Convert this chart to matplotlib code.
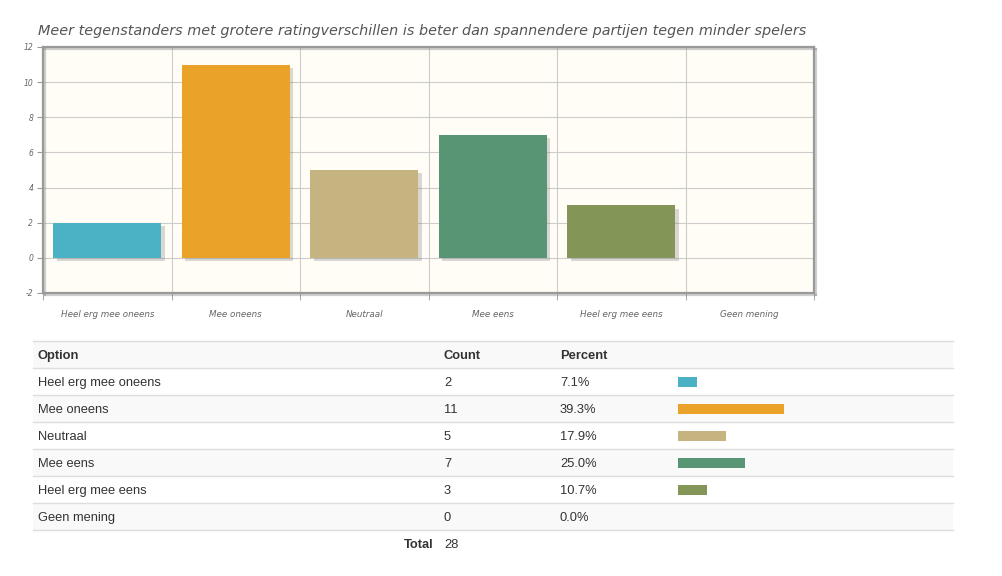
import matplotlib
matplotlib.use("Agg")
import matplotlib.pyplot as plt
import matplotlib.patheffects as pe
from matplotlib.patches import Rectangle
import numpy as np

title = "Meer tegenstanders met grotere ratingverschillen is beter dan spannendere partijen tegen minder spelers"
categories = ["Heel erg mee oneens", "Mee oneens", "Neutraal", "Mee eens", "Heel erg mee eens", "Geen mening"]
counts = [2, 11, 5, 7, 3, 0]
colors = ["#4bb2c5", "#eaa228", "#c5b47f", "#579575", "#839557", "#958c12"]
yticks = [-2, 0, 2, 4, 6, 8, 10, 12]

W, H = 1003, 576
fig = plt.figure(figsize=(W / 100, H / 100), dpi=100)
fig.patch.set_facecolor("white")

# ---- chart ----
L, R, T, B = 43, 814, 47, 293
ax = fig.add_axes([L / W, 1 - B / H, (R - L) / W, (B - T) / H])
ax.set_facecolor("#fffdf6")
x = np.arange(len(categories))
bars = ax.bar(x, counts, width=0.84, color=colors, zorder=3)
for b in bars:
    b.set_path_effects([pe.SimplePatchShadow(offset=(2.5, -2.5), shadow_rgbFace="#777777", alpha=0.28), pe.Normal()])
ax.set_xlim(-0.5, len(categories) - 0.5)
ax.set_ylim(-2, 12)
ax.set_yticks(yticks)
ax.set_yticklabels([str(v) for v in yticks], fontsize=5.5, style="italic", color="#666666")
ax.set_xticks(x)
ax.set_xticklabels(categories, fontsize=6.3, style="italic", color="#666666")
ax.tick_params(axis="x", length=0, pad=12)
ax.tick_params(axis="y", length=4, color="#999999", pad=3)
ax.set_xticks(np.arange(-0.5, len(categories), 1.0), minor=True)
ax.tick_params(axis="x", which="minor", length=5, color="#999999")
ax.grid(axis="y", color="#cccccc", linewidth=0.8, zorder=0)
ax.grid(axis="x", which="minor", color="#cccccc", linewidth=0.8, zorder=0)
for s in ax.spines.values():
    s.set_color("#999999")
    s.set_linewidth(1.6)
    s.set_path_effects([pe.SimpleLineShadow(offset=(1.5, -1.5), shadow_color="#888888", alpha=0.4), pe.Normal()])
ax.set_axisbelow(True)
fig.text(38 / W, 1 - 31 / H, title, fontsize=10.4, style="italic", color="#555555",
         va="center", ha="left", family="DejaVu Sans")

# ---- table ----
tx = fig.add_axes([0, 0, 1, 1])
tx.set_xlim(0, W)
tx.set_ylim(H, 0)
tx.axis("off")
tx.patch.set_alpha(0)
row_h = 27
top = 341
tl, tr = 33, 953
fs = 9.3
txtc = "#333333"
fam = "Liberation Sans"
bl = 18  # baseline offset inside a row
# header
tx.add_patch(Rectangle((tl, top), tr - tl, row_h, facecolor="#f9f9f9", edgecolor="none"))
for xx, s in [(38, "Option"), (444, "Count"), (560, "Percent")]:
    tx.text(xx, top + bl, s, fontsize=fs, weight="bold", color=txtc, va="baseline", ha="left", family=fam)
tx.plot([tl, tr], [top, top], color="#dddddd", lw=1)
total = sum(counts)
for i, (c, n, col) in enumerate(zip(categories, counts, colors)):
    y0 = top + row_h * (i + 1)
    if i % 2 == 1:
        tx.add_patch(Rectangle((tl, y0), tr - tl, row_h, facecolor="#f9f9f9", edgecolor="none"))
    tx.plot([tl, tr], [y0, y0], color="#dddddd", lw=1)
    yb = y0 + bl
    pct = 100.0 * n / total
    tx.text(38, yb, c, fontsize=fs, color=txtc, va="baseline", ha="left", family=fam)
    tx.text(444, yb, str(n), fontsize=fs, color=txtc, va="baseline", ha="left", family=fam)
    tx.text(560, yb, f"{pct:.1f}%", fontsize=fs, color=txtc, va="baseline", ha="left", family=fam)
    if n > 0:
        tx.add_patch(Rectangle((678, y0 + 9), pct * 2.7, 10, facecolor=col, edgecolor="none"))
yend = top + row_h * (len(categories) + 1)
tx.plot([tl, tr], [yend, yend], color="#dddddd", lw=1)
yt = yend + bl
tx.text(434, yt, "Total", fontsize=fs, weight="bold", color=txtc, va="baseline", ha="right", family=fam)
tx.text(444, yt, str(total), fontsize=fs, color=txtc, va="baseline", ha="left", family=fam)

fig.savefig("out.png", dpi=100, facecolor="white")
